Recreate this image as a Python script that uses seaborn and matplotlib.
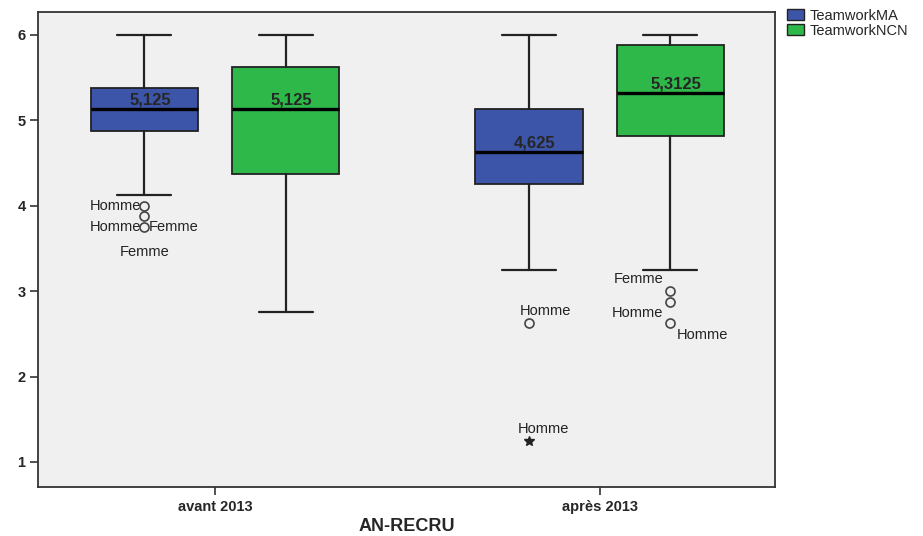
import matplotlib
matplotlib.use("Agg")
import matplotlib.pyplot as plt
from matplotlib.patches import Patch
import seaborn as sns

# data
groups = ["avant 2013", "après 2013"]
series = ["TeamworkMA", "TeamworkNCN"]

whislo_ma = [4.125, 3.25]
q1_ma = [4.875, 4.25]
med_ma = [5.125, 4.625]
q3_ma = [5.375, 5.125]
whishi_ma = [6.0, 6.0]
outliers_ma = [[4.0, 3.875, 3.75], [2.625]]
extremes_ma = [[], [1.25]]

whislo_ncn = [2.75, 3.25]
q1_ncn = [4.375, 4.8125]
med_ncn = [5.125, 5.3125]
q3_ncn = [5.625, 5.875]
whishi_ncn = [6.0, 6.0]
outliers_ncn = [[], [3.0, 2.875, 2.625]]
extremes_ncn = [[], []]

# case labels next to outliers: (text, group index, series index, value)
case_labels = [
    ("Homme", 0, 0, 4.0),
    ("Homme", 0, 0, 3.75),
    ("Femme", 0, 0, 3.75),
    ("Femme", 0, 0, 3.875),
    ("Homme", 1, 0, 2.625),
    ("Homme", 1, 0, 1.25),
    ("Femme", 1, 1, 3.0),
    ("Homme", 1, 1, 2.875),
    ("Homme", 1, 1, 2.625),
]
# label placement (pixel offsets, alignment) - same order as case_labels
label_style = [
    ((-3, 0), "right"), ((-3, 0), "right"), ((5, 0), "left"), ((0, -36), "center"),
    ((-9, 12), "left"), ((-11, 12), "left"),
    ((-7, 12), "right"), ((-7, -11), "right"), ((6, -12), "left"),
]

sns.set_style("white")
plt.rcParams["font.family"] = ["Liberation Sans", "DejaVu Sans"]
palette = sns.color_palette(["#3d55a8", "#2fb84a"])

fig = plt.figure(figsize=(9.23, 5.36), dpi=100)
ax = fig.add_axes([0.0412, 0.0914, 0.7985, 0.887])
ax.set_facecolor("#f0f0f0")

offsets = [-0.184, 0.184]
table = [
    (whislo_ma, q1_ma, med_ma, q3_ma, whishi_ma, outliers_ma, extremes_ma),
    (whislo_ncn, q1_ncn, med_ncn, q3_ncn, whishi_ncn, outliers_ncn, extremes_ncn),
]

stats, positions, colors = [], [], []
for gi in range(len(groups)):
    for si in range(len(series)):
        lo, q1, med, q3, hi, fl, ex = table[si]
        stats.append(dict(whislo=lo[gi], q1=q1[gi], med=med[gi], q3=q3[gi],
                          whishi=hi[gi], fliers=fl[gi]))
        positions.append(gi + offsets[si])
        colors.append(palette[si])

edge = "#222222"
res = ax.bxp(stats, positions=positions, widths=0.279, capwidths=0.14,
             patch_artist=True, showfliers=True,
             boxprops=dict(edgecolor=edge, linewidth=1.3),
             medianprops=dict(color="black", linewidth=2.4),
             whiskerprops=dict(color=edge, linewidth=1.6),
             capprops=dict(color=edge, linewidth=1.6),
             flierprops=dict(marker="o", markerfacecolor="none", markeredgecolor="#444444",
                             markersize=6.5, markeredgewidth=1.2, linestyle="none"))
for box, c in zip(res["boxes"], colors):
    box.set_facecolor(c)

# extreme values as stars
for gi in range(len(groups)):
    for si in range(len(series)):
        ex = table[si][6][gi]
        if ex:
            ax.plot([gi + offsets[si]] * len(ex), ex, linestyle="none", marker="*",
                    color=edge, markersize=7)

# median labels
for st, pos in zip(stats, positions):
    txt = f"{st['med']:g}".replace(".", ",")
    ax.annotate(txt, (pos, st["med"]), xytext=(6, 2), textcoords="offset pixels",
                ha="center", va="bottom", fontsize=12, fontweight="bold")

# outlier case labels
for (txt, gi, si, val), (off, ha) in zip(case_labels, label_style):
    ax.annotate(txt, (gi + offsets[si], val), xytext=off, textcoords="offset pixels",
                ha=ha, va="center", fontsize=10.5, color="#222222")

ax.set_xlim(-0.46, 1.456)
ax.set_ylim(0.707, 6.27)
ax.set_xticks(range(len(groups)))
ax.set_xticklabels(groups, fontsize=10.5, fontweight="bold")
ax.set_yticks(range(1, 7))
ax.set_yticklabels([str(v) for v in range(1, 7)], fontsize=10.5, fontweight="bold")
ax.tick_params(direction="out", length=6, width=1.2, color="#333333",
               left=True, bottom=True, pad=3)
ax.set_xlabel("AN-RECRU", fontsize=13, fontweight="bold", labelpad=3)
for sp in ax.spines.values():
    sp.set_color("#333333")
    sp.set_linewidth(1.3)

handles = [Patch(facecolor=palette[i], edgecolor=edge, label=series[i]) for i in range(2)]
fig.legend(handles=handles, loc="upper left", bbox_to_anchor=(0.846, 0.995), frameon=False,
           fontsize=10.5, handlelength=1.2, handleheight=0.8, handletextpad=0.4,
           borderaxespad=0, labelspacing=0.1)

fig.savefig("out.png", dpi=100)
